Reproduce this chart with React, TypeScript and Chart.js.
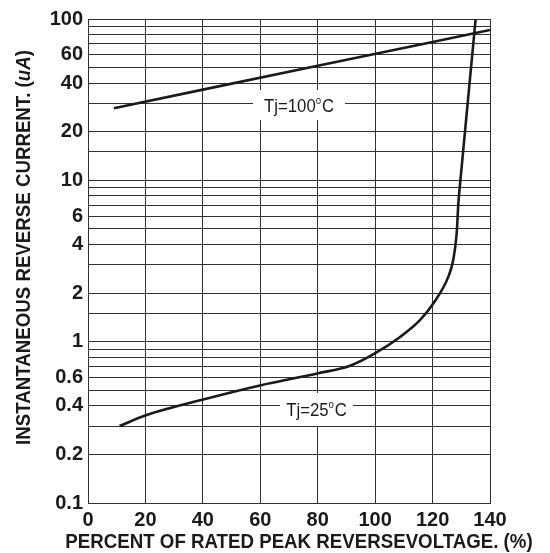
import { useEffect, useRef } from 'react';
import { Chart, registerables } from 'chart.js';

Chart.register(...registerables);

// ---- data ----
const X_MIN = 0;
const X_MAX = 140;
const X_STEP = 20;
const Y_MIN = 0.1;
const Y_MAX = 100;
const Y_TICK_LABELS = [0.1, 0.2, 0.4, 0.6, 1, 2, 4, 6, 10, 20, 40, 60, 100];

const T100_X = [9, 40, 80, 120, 140];
const T100_Y = [28, 36.5, 51.3, 72.1, 85.5];

const T25_X = [11, 20.4, 40.8, 59.9, 80.2, 91.3, 99.6, 108.7, 115.6, 120.3, 125.5, 127.2, 128.4, 129.0, 129.6, 135];
const T25_Y = [0.3, 0.351, 0.441, 0.535, 0.637, 0.71, 0.84, 1.07, 1.36, 1.73, 2.53, 3.21, 4.7, 7.3, 9.6, 100];

const CURVE_LABELS = ['Tj=100', 'Tj=25'];
const CURVE_LABEL_X = [73.5, 79.6];
const CURVE_LABEL_Y = [29.3, 0.38];

const X_TITLE = 'PERCENT OF RATED PEAK REVERSEVOLTAGE. (%)';
const Y_TITLE_PARTS = ['INSTANTANEOUS REVERSE CURRENT. (', 'uA', ')'];

// ---- style ----
const INK = '#1a1a1a';
const GRID = '#333333';
const FONT = '"Liberation Sans", Arial, sans-serif';

const textPlugin = {
  id: 'customText',
  afterDatasetsDraw(chart: any) {
    const ctx: CanvasRenderingContext2D = chart.ctx;
    const xs = chart.scales.x;
    const ys = chart.scales.y;
    ctx.save();
    ctx.fillStyle = INK;
    const boxes = [
      { hw: 46, hh: 15 },
      { hw: 36.5, hh: 16.5 },
    ];
    CURVE_LABELS.forEach((lab, i) => {
      const cx = xs.getPixelForValue(CURVE_LABEL_X[i]);
      const cy = ys.getPixelForValue(CURVE_LABEL_Y[i]);
      const b = boxes[i];
      ctx.fillStyle = '#ffffff';
      ctx.fillRect(cx - b.hw, cy - b.hh, b.hw * 2, b.hh * 2);
      ctx.fillStyle = INK;
      ctx.save();
      ctx.translate(cx, cy + 7);
      ctx.scale(0.88, 1);
      ctx.textBaseline = 'alphabetic';
      ctx.textAlign = 'left';
      const mainFont = `19px ${FONT}`;
      const supFont = `11px ${FONT}`;
      ctx.font = mainFont;
      const w1 = ctx.measureText(lab).width;
      const w3 = ctx.measureText('C').width;
      ctx.font = supFont;
      const w2 = ctx.measureText('o').width;
      const total = w1 + w2 + 1 + w3;
      let x = -total / 2;
      ctx.font = mainFont;
      ctx.fillText(lab, x, 0);
      x += w1;
      ctx.font = supFont;
      ctx.fillText('o', x, -8);
      x += w2 + 1;
      ctx.font = mainFont;
      ctx.fillText('C', x, 0);
      ctx.restore();
    });
    ctx.restore();
  },
  afterDraw(chart: any) {
    const ctx: CanvasRenderingContext2D = chart.ctx;
    ctx.save();
    ctx.fillStyle = INK;
    ctx.textBaseline = 'alphabetic';
    // x title
    ctx.save();
    ctx.translate(299, 548);
    ctx.scale(0.89, 1);
    ctx.font = `bold 21px ${FONT}`;
    ctx.textAlign = 'center';
    ctx.fillText(X_TITLE, 0, 0);
    ctx.restore();
    // y title
    ctx.save();
    ctx.translate(30, 247.5);
    ctx.rotate(-Math.PI / 2);
    ctx.scale(0.89, 1);
    ctx.textAlign = 'left';
    const fonts = [`bold 21px ${FONT}`, `italic bold 21px ${FONT}`, `bold 21px ${FONT}`];
    const widths = Y_TITLE_PARTS.map((p, i) => {
      ctx.font = fonts[i];
      return ctx.measureText(p).width;
    });
    let x = -widths.reduce((a, b) => a + b, 0) / 2;
    Y_TITLE_PARTS.forEach((p, i) => {
      ctx.font = fonts[i];
      ctx.fillText(p, x, 0);
      x += widths[i];
    });
    ctx.restore();
    ctx.restore();
  },
};

export default function App() {
  const ref = useRef<HTMLCanvasElement | null>(null);

  useEffect(() => {
    document.body.style.margin = '0';
    if (!ref.current) return;
    const labelSet = new Set(Y_TICK_LABELS.map((v) => Math.round(v * 1000)));
    const chart = new Chart(ref.current, {
      type: 'line',
      data: {
        datasets: [
          {
            label: 'Tj=100°C',
            data: T100_X.map((x, i) => ({ x, y: T100_Y[i] })),
            borderColor: INK,
            borderWidth: 2.6,
            pointRadius: 0,
            tension: 0,
            fill: false,
          },
          {
            label: 'Tj=25°C',
            data: T25_X.map((x, i) => ({ x, y: T25_Y[i] })),
            borderColor: INK,
            borderWidth: 2.6,
            pointRadius: 0,
            cubicInterpolationMode: 'monotone',
            fill: false,
          },
        ],
      },
      options: {
        animation: false,
        responsive: false,
        devicePixelRatio: 1,
        layout: { padding: { top: 19, right: 60, left: 0, bottom: 0 } },
        plugins: {
          legend: { display: false },
          tooltip: { enabled: false },
          title: { display: false },
        },
        scales: {
          x: {
            type: 'linear',
            min: X_MIN,
            max: X_MAX,
            ticks: {
              stepSize: X_STEP,
              color: INK,
              font: { family: FONT, size: 20, weight: 'bold' },
              padding: 5,
              maxRotation: 0,
            },
            grid: { color: GRID, lineWidth: 1, drawTicks: false },
            border: { display: true, color: GRID, width: 1 },
            afterFit: (s: any) => {
              s.height = 50;
            },
          },
          y: {
            type: 'logarithmic',
            min: Y_MIN,
            max: Y_MAX,
            ticks: {
              autoSkip: false,
              color: INK,
              font: { family: FONT, size: 20, weight: 'bold' },
              padding: 5,
              callback: (v: any) => {
                const n = Number(v);
                return labelSet.has(Math.round(n * 1000)) ? String(parseFloat(n.toPrecision(3))) : '';
              },
            },
            grid: { color: GRID, lineWidth: 1, drawTicks: false },
            border: { display: true, color: GRID, width: 1 },
            afterFit: (s: any) => {
              s.width = 88;
            },
          },
        },
      },
      plugins: [textPlugin],
    } as any);
    return () => chart.destroy();
  }, []);

  return (
    <div style={{ width: 550, height: 553 }}>
      <canvas ref={ref} width={550} height={553} style={{ width: 550, height: 553, display: 'block' }} />
    </div>
  );
}
